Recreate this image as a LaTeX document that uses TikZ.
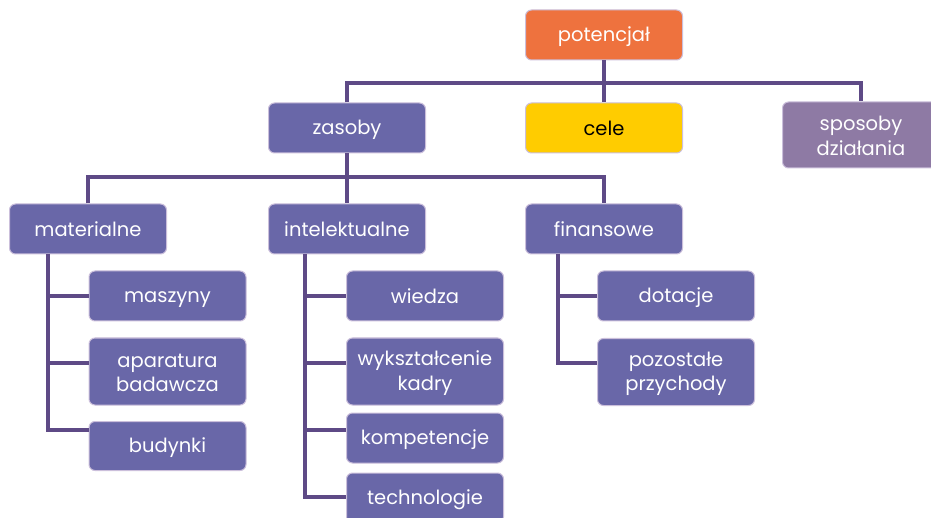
\documentclass[tikz,border=0pt]{standalone}
\usepackage{fontspec}
\setmainfont{Poppins}
\definecolor{boxfill}{HTML}{6967A8}
\definecolor{boxedge}{HTML}{CBBFDB}
\definecolor{linecol}{HTML}{5E4A86}
\definecolor{orangefill}{HTML}{EE723E}
\definecolor{yellowfill}{HTML}{FFCC00}
\definecolor{greyfill}{HTML}{8E7AA4}
\newcommand\st{\rule[-2pt]{0pt}{20pt}}
\begin{document}
\begin{tikzpicture}[x=1pt,y=-1pt,
  box/.style={draw=boxedge, line width=1pt, fill=boxfill, rounded corners=6pt,
    minimum width=157pt, minimum height=50pt, text=white, align=center,
    inner sep=2pt, font=\fontsize{19.5}{22}\selectfont},
  conn/.style={draw=linecol, line width=4pt}]
\useasboundingbox (0,0) rectangle (931,518);
\clip (0,0) rectangle (931,518);
% top level
\node[box, fill=orangefill] (pot) at (604,35) {\st potencjał};
\node[box] (zas) at (347,128) {\st zasoby};
\node[box, fill=yellowfill, text=black] (cele) at (604,128) {\st cele};
\node[box, fill=greyfill, minimum height=66pt] (spos) at (861,135) {\st sposoby\\\st działania};
% second level
\node[box] (mat) at (88,229) {\st materialne};
\node[box] (int) at (347,229) {\st intelektualne};
\node[box] (fin) at (604,229) {\st finansowe};
% leaves
\node[box] (masz) at (167.5,296) {\st maszyny};
\node[box, minimum height=67pt] (apar) at (167.5,371.5) {\st aparatura\\\st badawcza};
\node[box, minimum height=49pt] (bud) at (167.5,446) {\st budynki};
\node[box] (wie) at (425,296) {\st wiedza};
\node[box, minimum height=67pt] (wyk) at (425,371.5) {\st wykształcenie\\\st kadry};
\node[box] (komp) at (425,438) {\st kompetencje};
\node[box] (tech) at (425,498) {\st technologie};
\node[box] (dot) at (676,296) {\st dotacje};
\node[box, minimum height=67pt] (poz) at (676,372) {\st pozostałe\\\st przychody};
% junction coordinates
\coordinate (bar1) at (604,83);
\coordinate (bar2) at (347,177);
\coordinate (mv) at (48,254);
\coordinate (iv) at (305,254);
\coordinate (fv) at (558,254);
\coordinate (j1) at (0,296);
\coordinate (j2) at (0,363);
\coordinate (j3) at (0,430);
\coordinate (j4) at (0,497);
% connectors
\draw[conn] (pot.south) -- (cele.north);
\draw[conn] (zas.north) |- (bar1) -| (spos.north);
\draw[conn] (zas.south) -- (int.north);
\draw[conn] (mat.north) |- (bar2) -| (fin.north);
\draw[conn] (mv) |- (bud.west |- j3);
\draw[conn] (mv |- j1) -- (masz.west |- j1);
\draw[conn] (mv |- j2) -- (apar.west |- j2);
\draw[conn] (iv) |- (tech.west |- j4);
\draw[conn] (iv |- j1) -- (wie.west |- j1);
\draw[conn] (iv |- j2) -- (wyk.west |- j2);
\draw[conn] (iv |- j3) -- (komp.west |- j3);
\draw[conn] (fv) |- (poz.west |- j2);
\draw[conn] (fv |- j1) -- (dot.west |- j1);
\end{tikzpicture}
\end{document}
